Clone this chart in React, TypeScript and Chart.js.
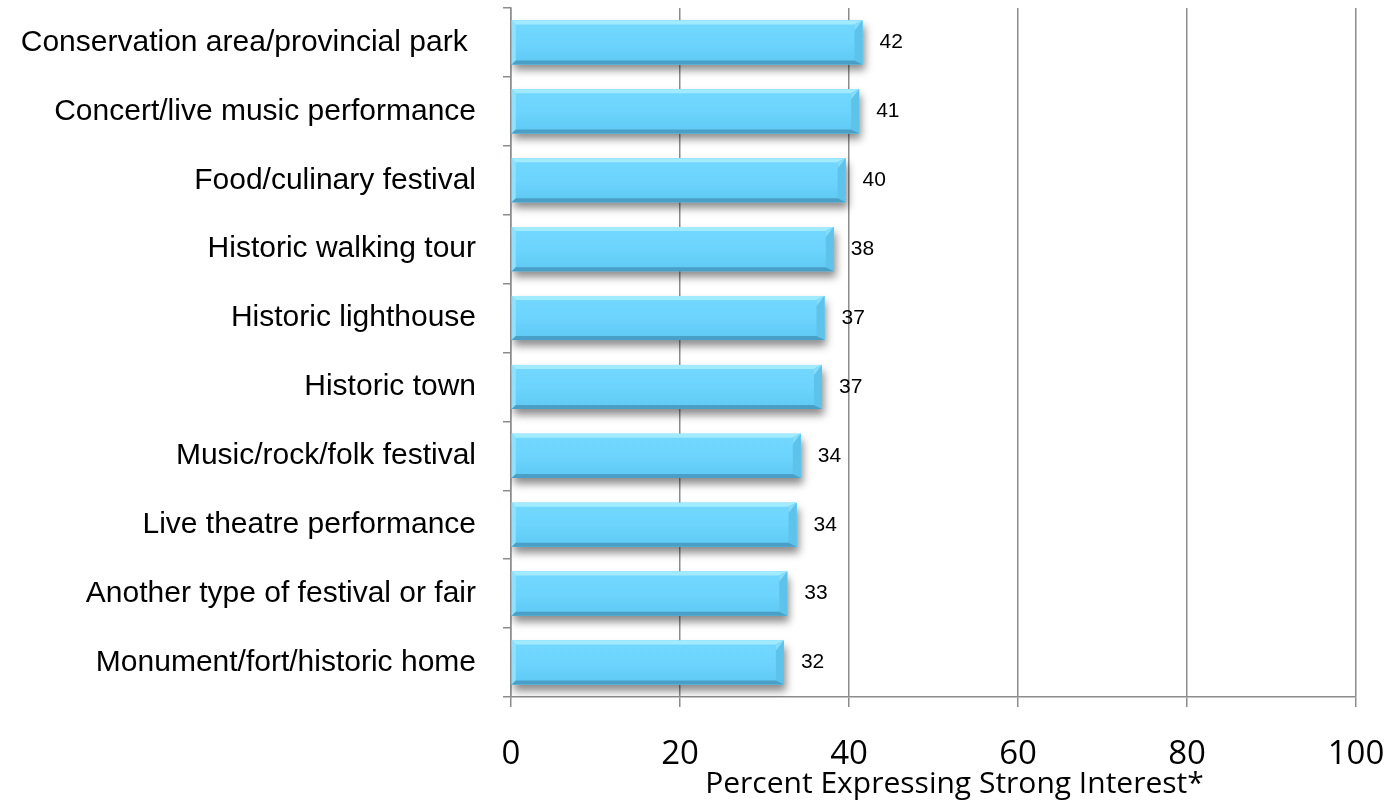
import React, { useEffect, useRef } from "react";
import { Chart, registerables } from "chart.js";

Chart.register(...registerables);

const categories = [
  "Conservation area/provincial park ",
  "Concert/live music performance",
  "Food/culinary festival",
  "Historic walking tour",
  "Historic lighthouse",
  "Historic town",
  "Music/rock/folk festival",
  "Live theatre performance",
  "Another type of festival or fair",
  "Monument/fort/historic home",
];
const values = [41.6, 41.2, 39.6, 38.2, 37.1, 36.8, 34.3, 33.8, 32.7, 32.3];
const valueLabels = ["42", "41", "40", "38", "37", "37", "34", "34", "33", "32"];
const xTicks = [0, 20, 40, 60, 80, 100];
const xTitle = "Percent Expressing Strong Interest*";

const bevelPlugin = {
  id: "bevel",
  beforeDatasetDraw(chart: any) {
    const ctx = chart.ctx;
    ctx.save();
    ctx.shadowColor = "rgba(0,0,0,0.45)";
    ctx.shadowBlur = 8;
    ctx.shadowOffsetX = 2;
    ctx.shadowOffsetY = 6;
  },
  afterDatasetDraw(chart: any) {
    const ctx = chart.ctx;
    ctx.restore();
    const meta = chart.getDatasetMeta(0);
    meta.data.forEach((bar: any, i: number) => {
      const left = bar.base;
      const right = bar.x;
      const top = bar.y - bar.height / 2;
      const bottom = bar.y + bar.height / 2;
      const b = 4;
      const rb = 8;
      const poly = (pts: number[][], fill: any) => {
        ctx.beginPath();
        ctx.moveTo(pts[0][0], pts[0][1]);
        for (let k = 1; k < pts.length; k++) ctx.lineTo(pts[k][0], pts[k][1]);
        ctx.closePath();
        ctx.fillStyle = fill;
        ctx.fill();
      };
      ctx.save();
      const g = ctx.createLinearGradient(0, top, 0, bottom);
      g.addColorStop(0, "#74d8ff");
      g.addColorStop(0.5, "#6cd4fd");
      g.addColorStop(1, "#5fc9f3");
      ctx.fillStyle = g;
      ctx.fillRect(left, top, right - left, bottom - top);
      poly([[left, top], [right, top], [right - rb, top + b], [left + b, top + b]], "#a2ebff");
      poly([[left, top], [left + b, top + b], [left + b, bottom - b], [left, bottom]], "#8fe2ff");
      poly([[right, top], [right, bottom], [right - rb, bottom - b], [right - rb, top + b]], "#5dc3ea");
      poly([[right, top], [right - rb, top + b], [right - rb, top + rb + 2]], "#86dcfb");
      poly([[left, bottom], [right, bottom], [right - rb, bottom - b], [left + b, bottom - b]], "#4a9fc6");
      ctx.restore();
      ctx.save();
      ctx.fillStyle = "#000";
      ctx.font = "21px 'Liberation Sans', Arial, sans-serif";
      ctx.textAlign = "left";
      ctx.textBaseline = "middle";
      ctx.fillText(valueLabels[i], right + 17, bar.y);
      ctx.restore();
    });
  },
  afterDraw(chart: any) {
    const ctx = chart.ctx;
    const area = chart.chartArea;
    ctx.save();
    ctx.fillStyle = "#000";
    ctx.font = "30px 'Open Sans', sans-serif";
    ctx.textAlign = "center";
    ctx.textBaseline = "alphabetic";
    ctx.fillText(xTitle, (area.left + area.right) / 2 + 21, 793);
    ctx.restore();
  },
};

export default function App() {
  const ref = useRef<HTMLCanvasElement | null>(null);
  useEffect(() => {
    if (!ref.current) return;
    const chart = new Chart(ref.current, {
      type: "bar",
      data: {
        labels: categories,
        datasets: [
          {
            data: values,
            backgroundColor: "#6cd5fe",
            borderWidth: 0,
            categoryPercentage: 1,
            barPercentage: 0.64,
          },
        ],
      },
      options: {
        indexAxis: "y",
        animation: false,
        responsive: true,
        maintainAspectRatio: false,
        layout: { padding: { top: 8, right: 35, left: 0, bottom: 0 } },
        plugins: { legend: { display: false }, tooltip: { enabled: false } },
        scales: {
          x: {
            min: 0,
            max: 100,
            afterBuildTicks: (s: any) => {
              s.ticks = xTicks.map((v) => ({ value: v }));
            },
            afterFit: (s: any) => {
              s.height = 812 - 697;
              s.paddingLeft = 0;
              s.paddingRight = 0;
            },
            grid: {
              color: "#8c8c8c",
              lineWidth: 1.5,
              tickLength: 10,
              drawTicks: true,
            },
            border: { color: "#8c8c8c", width: 1.5 },
            ticks: {
              color: "#000",
              font: { family: "'Open Sans', sans-serif", size: 33 },
              padding: 28,
              maxRotation: 0,
            },
          },
          y: {
            afterFit: (s: any) => {
              s.width = 511;
              s.paddingTop = 0;
              s.paddingBottom = 0;
            },
            grid: {
              offset: true,
              drawOnChartArea: false,
              drawTicks: true,
              tickLength: 8,
              color: "#8c8c8c",
              lineWidth: 1.5,
            },
            border: { color: "#8c8c8c", width: 1.5 },
            ticks: {
              color: "#000",
              font: { family: "'Liberation Sans', Arial, sans-serif", size: 30 },
              padding: 27,
              autoSkip: false,
            },
          },
        },
      },
      plugins: [bevelPlugin],
    });
    return () => chart.destroy();
  }, []);
  return (
    <div style={{ position: "absolute", left: 0, top: 0, width: 1391, height: 812, background: "#fff" }}>
      <canvas ref={ref} />
    </div>
  );
}
